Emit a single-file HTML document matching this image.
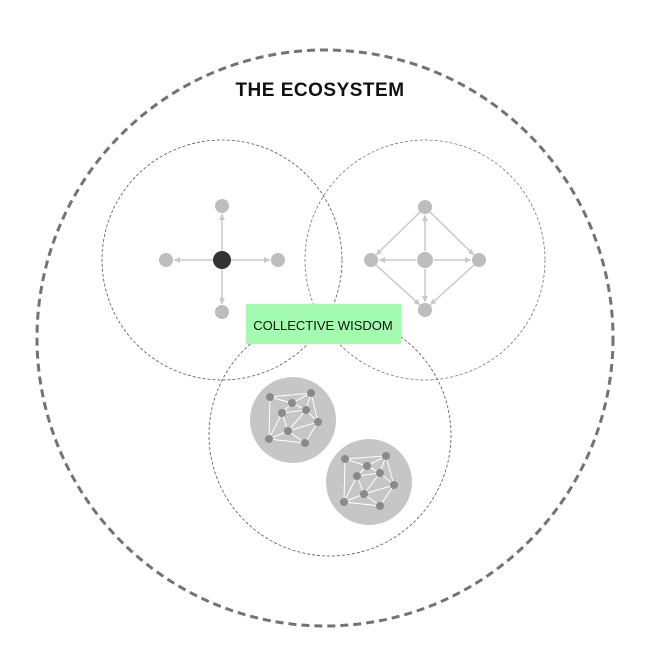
<!DOCTYPE html>
<html><head><meta charset="utf-8"><style>
html,body{margin:0;padding:0;background:#fff;width:648px;height:648px;overflow:hidden}
svg{display:block}
</style></head><body>
<svg width="648" height="648" viewBox="0 0 648 648" xmlns="http://www.w3.org/2000/svg">
<defs>
<marker id="a" viewBox="0 0 6 6" refX="6" refY="3" markerWidth="4" markerHeight="4" orient="auto"><path d="M0,0L6,3L0,6z" fill="#c8c8c8"/></marker>
</defs>
<circle cx="325" cy="338" r="288" fill="none" stroke="#737373" stroke-width="3" stroke-dasharray="8 5"/>
<text x="320" y="96" text-anchor="middle" font-family="Liberation Sans, sans-serif" font-size="19" font-weight="bold" letter-spacing="0.5" fill="#111">THE ECOSYSTEM</text>
<circle cx="222" cy="260" r="120" fill="none" stroke="#555" stroke-width="0.8" stroke-dasharray="3 2"/>
<circle cx="425" cy="260" r="120" fill="none" stroke="#777" stroke-width="0.8" stroke-dasharray="3 2"/>
<circle cx="330" cy="435" r="121" fill="none" stroke="#555" stroke-width="0.8" stroke-dasharray="3 2"/>
<g stroke="#c8c8c8" stroke-width="1.5" marker-end="url(#a)">
<line x1="222" y1="251" x2="222" y2="214"/><line x1="213" y1="260" x2="174" y2="260"/>
<line x1="231" y1="260" x2="270" y2="260"/><line x1="222" y1="269" x2="222" y2="304"/>
<line x1="416" y1="260" x2="379" y2="260"/><line x1="434" y1="260" x2="471" y2="260"/>
<line x1="425" y1="251" x2="425" y2="215"/><line x1="425" y1="269" x2="425" y2="302"/>
<line x1="430" y1="212" x2="474" y2="255"/><line x1="420" y1="212" x2="376" y2="255"/>
<line x1="376" y1="265" x2="420" y2="305"/><line x1="474" y1="265" x2="430" y2="305"/>
</g>
<g fill="#bdbdbd">
<circle cx="222" cy="206" r="7"/><circle cx="166" cy="260" r="7"/><circle cx="278" cy="260" r="7"/><circle cx="222" cy="312" r="7"/>
<circle cx="425" cy="207" r="7"/><circle cx="371" cy="260" r="7"/><circle cx="425" cy="260" r="8"/><circle cx="479" cy="260" r="7"/><circle cx="425" cy="310" r="7"/>
</g>
<circle cx="222" cy="260" r="9" fill="#333"/>
<rect x="246" y="304" width="155" height="40" fill="#a3fbb0"/>
<text x="323" y="330" text-anchor="middle" font-family="Liberation Sans, sans-serif" font-size="13" fill="#111">COLLECTIVE WISDOM</text>
<circle cx="293" cy="420" r="43" fill="#c6c6c6"/>
<circle cx="369" cy="482" r="43" fill="#c6c6c6"/>
<g stroke="#fff" stroke-width="1" fill="none">
<path d="M270,397L311,393L318,422L305,443L269,439Z M270,397L292,403L311,393 M292,403L306,410L311,393 M282,413L292,403 M282,413L306,410L318,422 M282,413L288,431L305,443 M288,431L318,422 M288,431L269,439 M270,397L269,439 M282,413L269,439 M306,410L288,431"/>
<path d="M345,459L386,456L394,485L380,506L344,502Z M345,459L367,466L386,456 M367,466L380,473L386,456 M357,476L367,466 M357,476L380,473L394,485 M357,476L364,494L380,506 M364,494L394,485 M364,494L344,502 M345,459L344,502 M357,476L344,502 M380,473L364,494"/>
</g>
<g fill="#8a8a8a">
<circle cx="270" cy="397" r="4"/><circle cx="311" cy="393" r="4"/><circle cx="292" cy="403" r="4"/><circle cx="282" cy="413" r="4"/><circle cx="306" cy="410" r="4"/><circle cx="318" cy="422" r="4"/><circle cx="288" cy="431" r="4"/><circle cx="269" cy="439" r="4"/><circle cx="305" cy="443" r="4"/>
<circle cx="345" cy="459" r="4"/><circle cx="386" cy="456" r="4"/><circle cx="367" cy="466" r="4"/><circle cx="357" cy="476" r="4"/><circle cx="380" cy="473" r="4"/><circle cx="394" cy="485" r="4"/><circle cx="364" cy="494" r="4"/><circle cx="344" cy="502" r="4"/><circle cx="380" cy="506" r="4"/>
</g>
</svg>
</body></html>
